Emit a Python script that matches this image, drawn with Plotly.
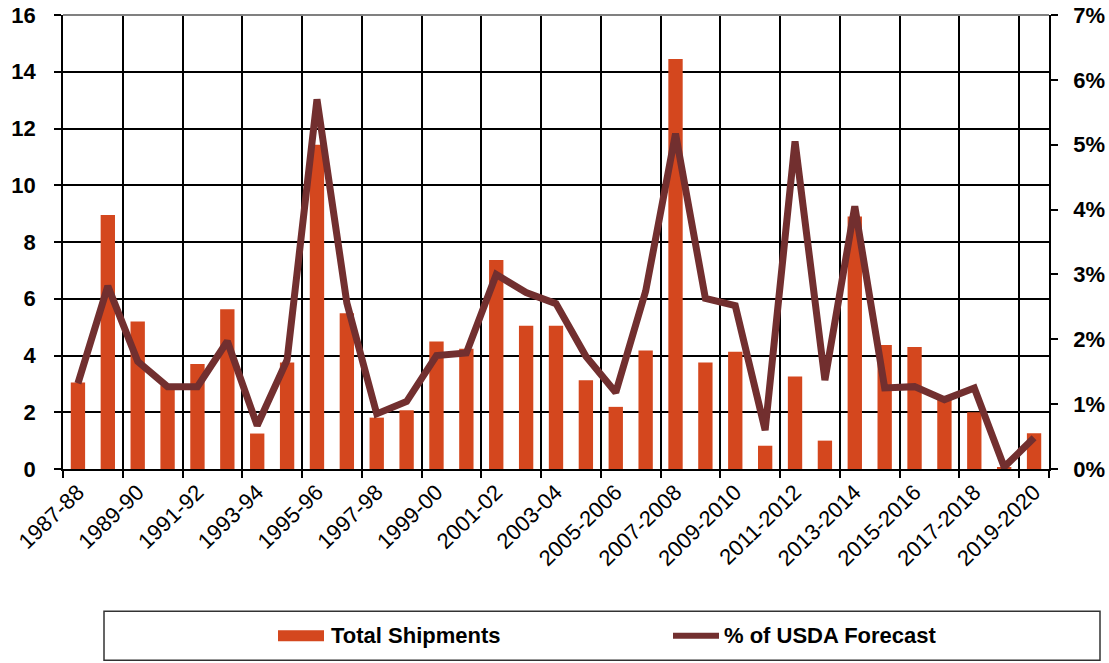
import plotly.graph_objects as go

categories = ["1987-88", "1988-89", "1989-90", "1990-91", "1991-92", "1992-93", "1993-94",
              "1994-95", "1995-96", "1996-97", "1997-98", "1998-99", "1999-00", "2000-01",
              "2001-02", "2002-03", "2003-04", "2004-05", "2005-2006", "2006-2007",
              "2007-2008", "2008-2009", "2009-2010", "2010-2011", "2011-2012", "2012-2013",
              "2013-2014", "2014-2015", "2015-2016", "2016-2017", "2017-2018", "2018-2019",
              "2019-2020"]

total_shipments = [3.05, 8.95, 5.2, 2.95, 3.7, 5.63, 1.25, 3.75, 11.43, 5.49, 1.81, 2.07,
                   4.49, 4.24, 7.37, 5.05, 5.05, 3.13, 2.19, 4.18, 14.45, 3.75, 4.13, 0.82,
                   3.26, 1.0, 8.9, 4.37, 4.30, 2.45, 2.0, 0.05, 1.26]

pct_usda_forecast = [1.32, 2.82, 1.66, 1.27, 1.27, 1.97, 0.67, 1.68, 5.70, 2.56, 0.85, 1.04,
                     1.75, 1.79, 3.0, 2.72, 2.55, 1.74, 1.18, 2.74, 5.17, 2.63, 2.52, 0.6,
                     5.05, 1.37, 4.05, 1.25, 1.27, 1.07, 1.25, 0.03, 0.48]

tick_labels = categories[::2]
series_names = ["Total Shipments", "% of USDA Forecast"]

BAR_COLOR = "#D4471E"
LINE_COLOR = "#722F2F"
FONT = "Liberation Sans, Arial, sans-serif"

W, H = 1109, 663
L, R, T, B = 63, 1049, 15, 469.5


def px(x):
    return (x - L) / (R - L)


def py(y):
    return (B - y) / (B - T)


fig = go.Figure()
fig.add_trace(go.Bar(x=categories, y=total_shipments, name=series_names[0],
                     marker=dict(color=BAR_COLOR, line=dict(width=0)), width=0.48,
                     yaxis="y"))
fig.add_trace(go.Scatter(x=categories, y=[v / 100 for v in pct_usda_forecast],
                         name=series_names[1], mode="lines",
                         line=dict(color=LINE_COLOR, width=7), yaxis="y2"))

shapes = [
    # top border of plot area
    dict(type="line", xref="paper", yref="paper", x0=0, x1=1, y0=1, y1=1,
         line=dict(color="#808080", width=2)),
    # legend box
    dict(type="rect", xref="paper", yref="paper", x0=px(104), x1=px(1100),
         y0=py(612), y1=py(661), line=dict(color="#333333", width=1.5)),
    # legend swatches
    dict(type="rect", xref="paper", yref="paper", x0=px(278), x1=px(324),
         y0=py(631), y1=py(642), fillcolor=BAR_COLOR, line=dict(width=0)),
    dict(type="line", xref="paper", yref="paper", x0=px(673), x1=px(719),
         y0=py(636.5), y1=py(636.5), line=dict(color=LINE_COLOR, width=6)),
]

annotations = [
    dict(text="<b>" + series_names[0] + "</b>", xref="paper", yref="paper",
         x=px(329), y=py(636.5), xanchor="left", yanchor="middle", showarrow=False,
         font=dict(family=FONT, size=22, color="black")),
    dict(text="<b>" + series_names[1] + "</b>", xref="paper", yref="paper",
         x=px(722), y=py(636.5), xanchor="left", yanchor="middle", showarrow=False,
         font=dict(family=FONT, size=22, color="black")),
    dict(text="<b>(Million Bushels)</b>", xref="paper", yref="paper",
         x=px(595), y=py(2), xanchor="center", yanchor="bottom", showarrow=False,
         font=dict(family=FONT, size=20, color="black")),
]

fig.update_layout(
    width=W, height=H,
    margin=dict(l=L, r=W - R, t=T, b=H - B, pad=0, autoexpand=False),
    paper_bgcolor="white", plot_bgcolor="white",
    showlegend=False,
    font=dict(family=FONT, color="black"),
    xaxis=dict(
        type="category", tickmode="array", tickvals=tick_labels, ticktext=tick_labels,
        tickson="boundaries", tickangle=-44, automargin=False,
        showgrid=True, gridcolor="black", gridwidth=1.5,
        showline=True, linecolor="black", linewidth=1.5,
        ticks="outside", ticklen=7, tickcolor="black", tickwidth=1.5,
        tickfont=dict(family=FONT, size=22, color="black"),
        range=[-0.5, len(categories) - 0.5],
    ),
    yaxis=dict(
        range=[0, 16], dtick=2, tick0=0, automargin=False,
        showgrid=True, gridcolor="black", gridwidth=1.5, zeroline=False,
        showline=True, linecolor="black", linewidth=1.5,
        ticks="outside", ticklen=7, tickcolor="black", tickwidth=1.5,
        ticklabelstandoff=14,
        tickfont=dict(family=FONT, size=22, color="black", weight="bold"),
    ),
    yaxis2=dict(
        range=[0, 0.07], dtick=0.01, tick0=0, tickformat=".0%", automargin=False,
        overlaying="y", side="right", showgrid=False, zeroline=False,
        showline=True, linecolor="black", linewidth=1.5,
        ticks="outside", ticklen=7, tickcolor="black", tickwidth=1.5,
        ticklabelstandoff=11,
        tickfont=dict(family=FONT, size=22, color="black", weight="bold"),
    ),
    shapes=shapes,
    annotations=annotations,
)

fig.write_html("out.html",
               config={"displayModeBar": False},
               post_script="document.body.style.margin='0px';"
                           "document.body.style.overflow='hidden';")
